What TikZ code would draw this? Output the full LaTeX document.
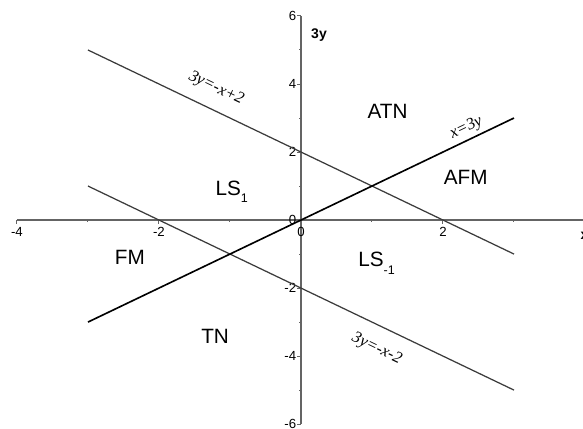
\documentclass[tikz,border=0pt]{standalone}
\usepackage{fontspec}
\setmainfont{Liberation Sans}
\newfontfamily\eqfont{Liberation Serif}
\usetikzlibrary{positioning}
\definecolor{AxisGray}{RGB}{100,100,100}
\definecolor{LineGray}{RGB}{60,60,60}
\newcommand{\lowsub}[1]{\raisebox{-3pt}{\fontsize{5}{5}\selectfont #1}}

\begin{document}
\begin{tikzpicture}[
    x=1cm, y=0.479cm,
    axis/.style={AxisGray, line width=0.8pt},
    tick/.style={AxisGray, line width=0.4pt},
    ticklabel/.style={inner sep=0pt, font=\fontsize{5.3}{6}\selectfont},
    axislabel/.style={inner sep=0pt, font=\fontsize{5.6}{6}\selectfont\bfseries},
    border/.style={LineGray, line width=0.5pt},
    mainline/.style={black, line width=0.65pt},
    eqlabel/.style={sloped, inner sep=0pt, text=black, font=\fontsize{6.6}{7}\selectfont\eqfont\itshape},
    region/.style={inner sep=0pt, font=\fontsize{8.3}{10}\selectfont}
  ]
    \clip (-4.239,-6.118) rectangle (3.972,6.47);

    % axes
    \coordinate (xleft) at (-4,0);
    \coordinate (xright) at (4.2,0);
    \coordinate (ybottom) at (0,-6);
    \coordinate (ytop) at (0,6);
    \draw[axis] (xleft) -- (xright);
    \draw[axis] (ybottom) -- (ytop);
    \foreach \i in {-4,-2,0,2} {
      \draw[tick] (\i,0) -- ++(0,-0.05cm);
      \node[ticklabel, anchor=north] (xtick\i) at ([yshift=-0.1cm]\i,0) {\i};
    }
    \foreach \i in {-3,-1,1,3}
      \draw[tick] (\i,0) -- ++(0,-0.025cm);
    \foreach \i in {-6,-4,-2,0,2,4,6} {
      \draw[tick] (0,\i) -- ++(-0.05cm,0);
      \node[ticklabel, anchor=east] (ytick\i) at ([xshift=-0.06cm]0,\i) {\i};
    }
    \foreach \i in {-5,-3,-1,1,3,5}
      \draw[tick] (0,\i) -- ++(-0.025cm,0);
    \node[axislabel] (ylabel) at (0.254,5.44) {3y};
    \node[axislabel, anchor=west] (xlabel) at (3.93,-0.47) {x};

    % lines
    \coordinate (upA) at (-3,5);
    \coordinate (upB) at (3,-1);
    \coordinate (lowA) at (-3,1);
    \coordinate (lowB) at (3,-5);
    \coordinate (midA) at (-3,-3);
    \coordinate (midB) at (3,3);
    \draw[border] (upA) -- node[eqlabel, pos=0.28, above=0.18cm] (equp) {3y=-x+2} (upB);
    \draw[border] (lowA) -- node[eqlabel, pos=0.70, below=0.2cm] (eqlow) {3y=-x-2} (lowB);
    \draw[mainline] (midA) -- node[eqlabel, pos=0.90, above=0.05cm] (eqmid) {x=3y} (midB);

    % regions
    \node[region] (atn) at (1.22,3.2) {ATN};
    \node[region] (afm) at (2.32,1.26) {AFM};
    \node[region, anchor=base west] (lsone) at (-1.21,0.735) {LS\lowsub{1}};
    \node[region, anchor=base west] (lsminus) at (0.80,-1.38) {LS\lowsub{-1}};
    \node[region] (fm) at (-2.41,-1.09) {FM};
    \node[region] (tn) at (-1.21,-3.41) {TN};
\end{tikzpicture}
\end{document}
